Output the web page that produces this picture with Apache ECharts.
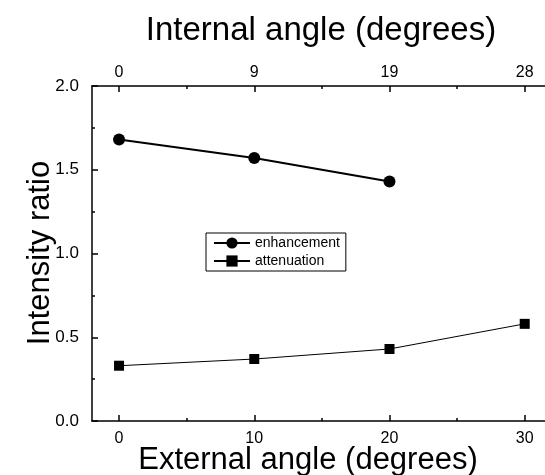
<!DOCTYPE html>
<html>
<head>
<meta charset="utf-8">
<script src="https://cdn.jsdelivr.net/npm/echarts@6/dist/echarts.min.js"></script>
<style>html,body{margin:0;padding:0;background:#fff}#c{width:545px;height:475px}</style>
</head>
<body>
<div id="c"></div>
<script>
// ---- data ----
const enhancementAngles = [0, 10, 20];
const enhancement = [1.68, 1.57, 1.43];
const attenuationAngles = [0, 10, 20, 30];
const attenuation = [0.33, 0.37, 0.43, 0.58];
const externalTicks = [0, 10, 20, 30];
const internalTickLabels = ['0', '9', '19', '28'];
const minorXTicks = [5, 15, 25];
const seriesNames = ['enhancement', 'attenuation'];
const titleTop = 'Internal angle (degrees)';
const titleBottom = 'External angle (degrees)';
const titleLeft = 'Intensity ratio';

const FONT = 'Liberation Sans, Arial, Helvetica, sans-serif';
const chart = echarts.init(document.getElementById('c'));

function xAxisBase(pos) {
  return {
    type: 'value', position: pos, min: -2, max: 31.5,
    axisLine: { show: true, onZero: false, lineStyle: { color: '#000', width: 1.5 } },
    splitLine: { show: false },
  };
}

const option = {
  animation: false,
  backgroundColor: '#fff',
  grid: { left: 92, right: 0, top: 86, bottom: 54 },
  xAxis: [
    Object.assign(xAxisBase('bottom'), {
      axisTick: { show: true, inside: true, length: 6, customValues: externalTicks, lineStyle: { color: '#000', width: 1.5 } },
      axisLabel: { customValues: externalTicks, color: '#000', fontSize: 16, fontFamily: FONT, margin: 10 }
    }),
    Object.assign(xAxisBase('top'), {
      axisTick: { show: true, inside: true, length: 6, customValues: externalTicks, lineStyle: { color: '#000', width: 1.5 } },
      axisLabel: { customValues: externalTicks, color: '#000', fontSize: 16, fontFamily: FONT, margin: 5,
        formatter: v => internalTickLabels[externalTicks.indexOf(v)] }
    }),
    Object.assign(xAxisBase('bottom'), {
      axisLine: { show: false },
      axisTick: { show: true, inside: true, length: 3, customValues: minorXTicks, lineStyle: { color: '#000', width: 1.5 } },
      axisLabel: { show: false }
    }),
    Object.assign(xAxisBase('top'), {
      axisLine: { show: false },
      axisTick: { show: true, inside: true, length: 3, customValues: minorXTicks, lineStyle: { color: '#000', width: 1.5 } },
      axisLabel: { show: false }
    })
  ],
  yAxis: [{
    type: 'value', min: 0, max: 2, interval: 0.5, position: 'left',
    axisLine: { show: true, onZero: false, lineStyle: { color: '#000', width: 1.5 } },
    axisTick: { show: true, inside: true, length: 6, lineStyle: { color: '#000', width: 1.5 } },
    minorTick: { show: true, splitNumber: 2, length: 3, lineStyle: { color: '#000', width: 1.5 } },
    splitLine: { show: false },
    axisLabel: { color: '#000', fontSize: 17, fontFamily: FONT, margin: 13, formatter: v => v.toFixed(1) }
  }],
  legend: {
    orient: 'vertical', left: 206, top: 233,
    data: seriesNames,
    borderColor: '#000', borderWidth: 1, borderRadius: 0,
    padding: [3, 6, 3, 7], itemGap: 4, itemWidth: 36, itemHeight: 14,
    textStyle: { color: '#000', fontSize: 14, fontFamily: FONT }
  },
  series: [
    {
      name: seriesNames[0], type: 'line', xAxisIndex: 0, yAxisIndex: 0,
      data: enhancementAngles.map((a, i) => [a, enhancement[i]]),
      symbol: 'circle', symbolSize: 12,
      lineStyle: { color: '#000', width: 2 }, itemStyle: { color: '#000' }
    },
    {
      name: seriesNames[1], type: 'line', xAxisIndex: 0, yAxisIndex: 0,
      data: attenuationAngles.map((a, i) => [a, attenuation[i]]),
      symbol: 'rect', symbolSize: 10,
      lineStyle: { color: '#000', width: 1 }, itemStyle: { color: '#000' }
    }
  ],
  graphic: [
    { type: 'text', x: 321, y: 31, style: { text: titleTop, font: '33px ' + FONT, fill: '#000', textAlign: 'center', textVerticalAlign: 'middle' } },
    { type: 'text', x: 308, y: 460, style: { text: titleBottom, font: '31px ' + FONT, fill: '#000', textAlign: 'center', textVerticalAlign: 'middle' } },
    { type: 'text', x: 40, y: 253, rotation: Math.PI / 2, style: { text: titleLeft, font: '31px ' + FONT, fill: '#000', textAlign: 'center', textVerticalAlign: 'middle' } }
  ]
};
chart.setOption(option);
</script>
</body>
</html>
